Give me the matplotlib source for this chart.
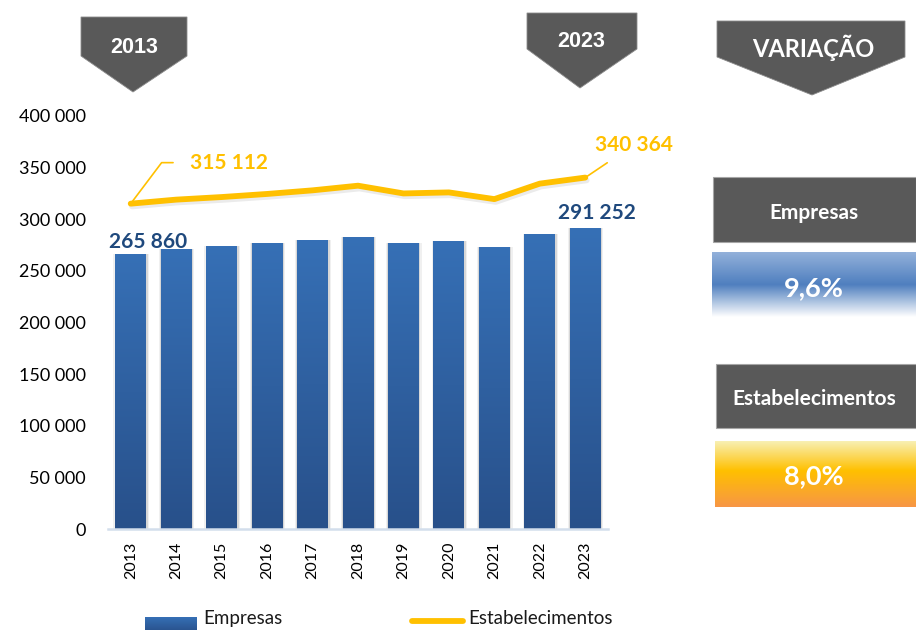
import numpy as np
import matplotlib
matplotlib.use('Agg')
import matplotlib.pyplot as plt
from matplotlib.colors import LinearSegmentedColormap
from matplotlib.patches import Polygon, Rectangle
from matplotlib.lines import Line2D
import matplotlib.patheffects as pe

plt.rcParams['font.family'] = ['Lato', 'DejaVu Sans']

anos = ['2013', '2014', '2015', '2016', '2017', '2018', '2019', '2020', '2021', '2022', '2023']
empresas = [265860, 271000, 274000, 277000, 280000, 283000, 277000, 279000, 273000, 286000, 291252]
estabelecimentos = [315112, 319000, 321500, 324500, 328000, 332500, 325000, 326000, 319500, 334500, 340364]
yticks = [0, 50000, 100000, 150000, 200000, 250000, 300000, 350000, 400000]
var_empresas = '9,6%'
var_estab = '8,0%'

W, H = 916, 630
fig = plt.figure(figsize=(W / 100, H / 100), dpi=100)
ax = fig.add_axes([108 / W, 1 - 529 / H, 500 / W, 413 / H])

x = np.arange(len(anos))
bars = ax.bar(x, empresas, width=0.68, color='none', zorder=2)
grad = np.linspace(0, 1, 256).reshape(-1, 1)
cm_bar = LinearSegmentedColormap.from_list('bar', ['#28508a', '#3670b6'])
for b in bars:
    bx, bw, bh = b.get_x(), b.get_width(), b.get_height()
    # soft side shadow
    for k, a in [(0.10, 0.06), (0.05, 0.10)]:
        ax.add_patch(Rectangle((bx - k / 2 + 0.01, 0), bw + k, bh, color='black',
                               alpha=a, lw=0, zorder=1.5))
    im = ax.imshow(grad, extent=(bx, bx + bw, 0, bh), origin='lower', cmap=cm_bar,
                   aspect='auto', zorder=2)
    im.set_clip_path(b)

ax.plot(x, estabelecimentos, color='#ffc000', lw=4.2, solid_capstyle='round',
        solid_joinstyle='round', zorder=3,
        path_effects=[pe.SimpleLineShadow(offset=(1, -2), alpha=0.08, shadow_color='black'),
                      pe.Normal()])

ax.set_xlim(-0.5, len(anos) - 0.5)
ax.set_ylim(0, 400000)
ax.set_yticks(yticks)
ax.set_yticklabels([f'{v:,}'.replace(',', ' ') for v in yticks], fontsize=13)
ax.set_xticks(x)
ax.set_xticklabels(anos, rotation=90, fontsize=11.5)
ax.tick_params(axis='y', length=0, pad=16)
ax.tick_params(axis='x', length=0, pad=9)
for s in ['top', 'right', 'left']:
    ax.spines[s].set_visible(False)
ax.spines['bottom'].set_color('#d3deec')
ax.spines['bottom'].set_linewidth(1.8)
ax.spines['bottom'].set_zorder(4)
ax.patch.set_visible(False)

# data labels
lab_blue = dict(color='#1f497d', fontsize=15, fontweight='bold', ha='center', va='baseline')
ax.annotate('265 860', xy=(x[0], empresas[0]), xytext=(17, 6), textcoords='offset pixels', **lab_blue)
ax.annotate('291 252', xy=(x[-1], empresas[-1]), xytext=(12, 9), textcoords='offset pixels', **lab_blue)

lab_yel = dict(color='#ffc000', fontsize=15, fontweight='bold', va='baseline')
ax.annotate('315 112', xy=(x[0], estabelecimentos[0]), xytext=(59, 35), textcoords='offset pixels',
            ha='left', **lab_yel,
            arrowprops=dict(arrowstyle='-', color='#ffc000', lw=1.2, shrinkA=10, shrinkB=0,
                            connectionstyle='angle,angleA=0,angleB=53,rad=0'))
ax.annotate('340 364', xy=(x[-1], estabelecimentos[-1]), xytext=(49, 27), textcoords='offset pixels',
            ha='center', **lab_yel,
            arrowprops=dict(arrowstyle='-', color='#ffc000', lw=1.2, shrinkA=7, shrinkB=0))

# overlay in pixel coordinates for banners, boxes and legend
ov = fig.add_axes([0, 0, 1, 1])
ov.set_xlim(0, W)
ov.set_ylim(H, 0)
ov.axis('off')

gray = '#595959'
banners = [
    ('2013', [(81, 17), (187, 17), (187, 56), (133, 92), (81, 56)], 134, 53, ['Liberation Sans', 'DejaVu Sans'], 15.5),
    ('2023', [(527, 13), (637, 13), (637, 49), (580, 88), (527, 49)], 581, 47, ['Liberation Sans', 'DejaVu Sans'], 15.5),
    ('VARIAÇÃO', [(717, 21), (905, 21), (905, 57), (812, 95), (717, 57)], 813, 57, ['Lato', 'DejaVu Sans'], 17),
]
for txt, pts, tx, ty, fam, fs in banners:
    ov.add_patch(Polygon(pts, closed=True, facecolor=gray, edgecolor='#8c8c8c', lw=0.6))
    ov.text(tx, ty, txt, color='white', fontsize=fs, fontweight='bold', family=fam,
            ha='center', va='baseline')

ov.add_patch(Rectangle((713, 177), 203, 65, facecolor=gray, edgecolor='#a6a6a6', lw=0.8))
ov.text(814, 219, 'Empresas', color='white', fontsize=15, fontweight='bold', ha='center', va='baseline')
ov.add_patch(Rectangle((716, 364), 200, 64, facecolor=gray, edgecolor='#a6a6a6', lw=0.8))
ov.text(814, 405, 'Estabelecimentos', color='white', fontsize=15, fontweight='bold', ha='center', va='baseline')

cm_blue = LinearSegmentedColormap.from_list('bl', [(0, '#93b1da'), (0.5, '#4f7fbf'), (1, '#ffffff')])
cm_yel = LinearSegmentedColormap.from_list('ye', [(0, '#f8f0b4'), (0.45, '#ffc000'), (1, '#f79646')])
g = np.linspace(0, 1, 256).reshape(-1, 1)
ov.imshow(g, extent=(712, 916, 317, 252), origin='upper', cmap=cm_blue, aspect='auto')
ov.imshow(g, extent=(715, 916, 507, 441), origin='upper', cmap=cm_yel, aspect='auto')
ov.text(814, 296, var_empresas, color='white', fontsize=19.5, fontweight='bold', ha='center', va='baseline')
ov.text(814, 484, var_estab, color='white', fontsize=19.5, fontweight='bold', ha='center', va='baseline')

# legend
ov.imshow(g, extent=(145, 197, 632, 617), origin='upper',
          cmap=LinearSegmentedColormap.from_list('lg', ['#3670b6', '#28508a']), aspect='auto')
ov.text(203, 624, 'Empresas', fontsize=13.5, ha='left', va='baseline', color='#1a1a1a')
ov.add_line(Line2D([412, 463], [621, 621], color='#ffc000', lw=4.2, solid_capstyle='round'))
ov.text(468, 624, 'Estabelecimentos', fontsize=13.5, ha='left', va='baseline', color='#1a1a1a')

ov.set_xlim(0, W)
ov.set_ylim(H, 0)

fig.savefig('out.png', dpi=100)
